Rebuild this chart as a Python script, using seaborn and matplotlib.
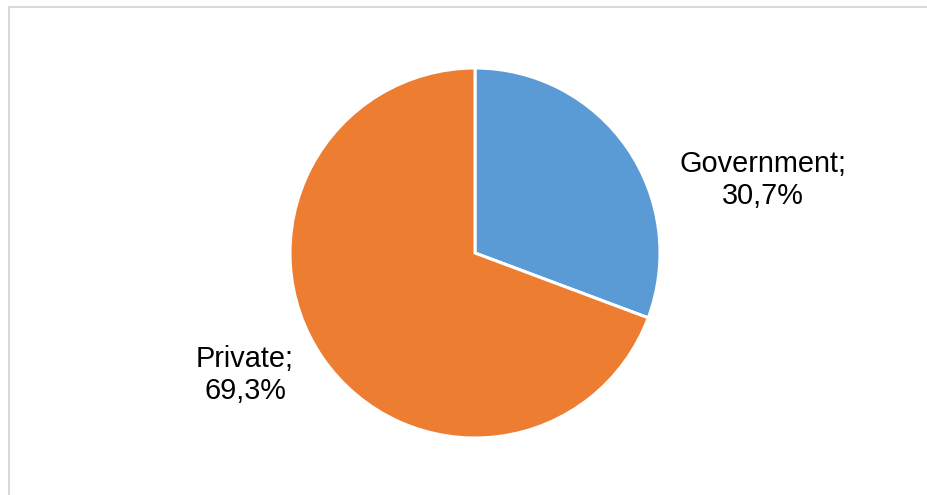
import matplotlib
matplotlib.use("Agg")
import matplotlib.pyplot as plt
import seaborn as sns

sectors = ["Government", "Private"]
shares = [30.7, 69.3]
colors = ["#5B9BD5", "#ED7D31"]

sns.set_theme(style="white")
plt.rcParams["font.family"] = ["Liberation Sans", "DejaVu Sans"]

W, H = 928, 495
fig = plt.figure(figsize=(W / 100, H / 100), dpi=100)
fig.patch.set_facecolor("white")
ax = fig.add_axes([0, 0, 1, 1])

cx, cy, r = 475, H - 253, 185
ax.pie(shares, colors=colors, startangle=90, counterclock=False,
       radius=r, center=(cx, cy), frame=True,
       wedgeprops=dict(edgecolor="white", linewidth=2.2))
ax.set_xlim(0, W)
ax.set_ylim(0, H)
ax.set_aspect("equal")
ax.axis("off")

label_pos = [(763, H - 180), (245, H - 375)]
for name, val, (x, y) in zip(sectors, shares, label_pos):
    txt = f"{name};\n{val:.1f}%".replace(".", ",")
    ax.text(x, y, txt, ha="center", va="center", fontsize=20.8,
            color="#000000", linespacing=1.15)

# chart area border (top and left edges visible)
ax.plot([9, W], [H - 6.5, H - 6.5], color="#d9d9d9", lw=1.5, clip_on=False)
ax.plot([9.5, 9.5], [0, H - 6.5], color="#d9d9d9", lw=1.5, clip_on=False)

fig.savefig("out.png", dpi=100, facecolor="white")
